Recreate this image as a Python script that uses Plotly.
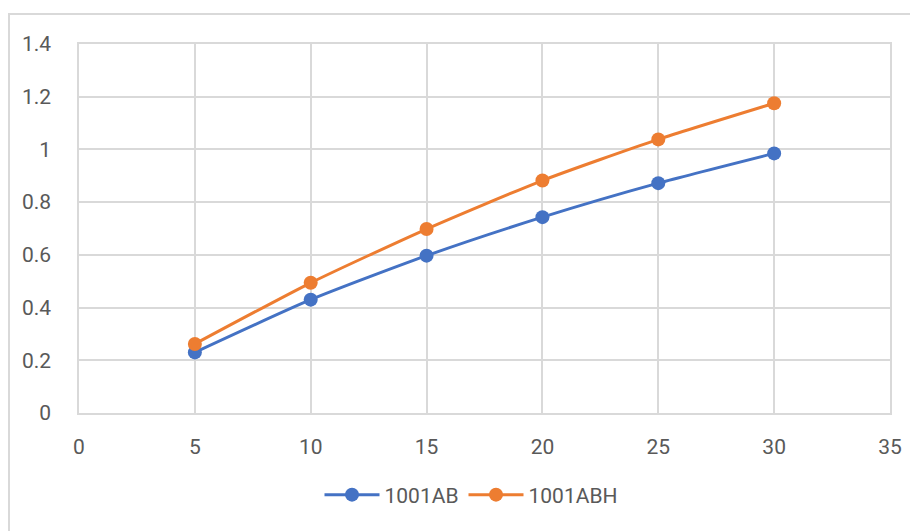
import plotly.graph_objects as go

x_vals = [5, 10, 15, 20, 25, 30]
series_ab = [0.23, 0.43, 0.597, 0.743, 0.872, 0.985]
series_abh = [0.262, 0.494, 0.698, 0.882, 1.038, 1.175]
names = ["1001AB", "1001ABH"]
colors = ["#4472C4", "#ED7D31"]

fig = go.Figure()
for name, ys, c in zip(names, [series_ab, series_abh], colors):
    fig.add_trace(go.Scatter(
        x=x_vals, y=ys, name=name, mode="lines+markers",
        line=dict(color=c, width=3, shape="spline", smoothing=0.6),
        marker=dict(color=c, size=14),
    ))

OFF = 8  # default page body margin
W, H = 918 - OFF, 531 - OFF
L, R, T, B = 79 - OFF, 890 - OFF, 44 - OFF, 413 - OFF
pw, ph = R - L, B - T
font = dict(family="Roboto, sans-serif", size=21, color="#595959")

fig.update_layout(
    width=W, height=H,
    margin=dict(l=L, r=W - R, t=T, b=H - B, autoexpand=False),
    plot_bgcolor="white", paper_bgcolor="white",
    font=font,
    xaxis=dict(range=[0, 35], dtick=5, tick0=0, showgrid=True, gridcolor="#d9d9d9", gridwidth=1.5,
               zeroline=False, showline=True, linecolor="#d9d9d9", linewidth=1.5, mirror=True,
               ticks="", ticklabelstandoff=14, fixedrange=True, automargin=False),
    yaxis=dict(range=[0, 1.4], dtick=0.2, tick0=0, showgrid=True, gridcolor="#d9d9d9", gridwidth=1.5,
               zeroline=False, showline=True, linecolor="#d9d9d9", linewidth=1.5, mirror=True,
               ticks="", ticklabelstandoff=22, fixedrange=True, automargin=False),
    legend=dict(orientation="h", x=(471 - 79) / 811, xanchor="center", y=((413 - 495) / 369), yanchor="middle",
                font=font, itemwidth=55, bgcolor="rgba(0,0,0,0)"),
    showlegend=True,
)

fig.add_shape(type="rect", xref="paper", yref="paper",
              x0=(9 - 79) / pw, x1=(940 - 79) / pw,
              y0=(413 - 560) / ph, y1=(413 - 14) / ph,
              line=dict(color="#d9d9d9", width=2), layer="below")

fig.write_html("out.html")
